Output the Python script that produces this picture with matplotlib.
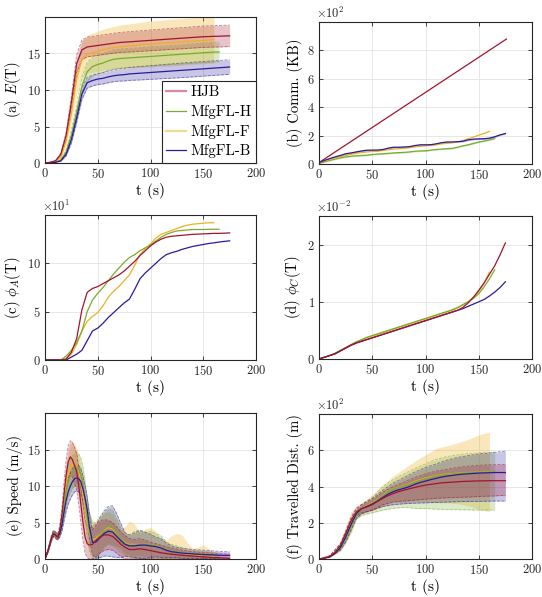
import numpy as np
import matplotlib
matplotlib.use("Agg")
import matplotlib.pyplot as plt
from matplotlib.lines import Line2D

plt.rcParams['font.family'] = 'serif'
plt.rcParams['font.serif'] = ['cmr10', 'DejaVu Serif']
plt.rcParams['mathtext.fontset'] = 'cm'
plt.rcParams['axes.unicode_minus'] = False
plt.rcParams['axes.formatter.use_mathtext'] = True

# ---------------- data ----------------
METHODS = ['HJB', 'MfgFL-H', 'MfgFL-F', 'MfgFL-B']
COLORS = {'HJB': '#A2142F', 'MfgFL-H': '#77AC30', 'MfgFL-F': '#EDB120', 'MfgFL-B': '#2B1B9B'}
LEGEND_COLORS = {'HJB': '#D68A9C', 'MfgFL-H': '#77AC30', 'MfgFL-F': '#F6D88E', 'MfgFL-B': '#2B1B9B'}

T5 = np.arange(0, 180, 5)  # time grid (s) for panels a, b, c, d, f
T_SPD = [0, 3, 6, 8, 10, 12, 14, 16, 18, 20, 22, 24, 26, 28, 30, 32, 34, 36, 38, 40, 42, 45, 48,
         52, 56, 60, 64, 68, 72, 76, 80, 85, 90, 95, 100, 105, 110, 115, 120, 125, 130, 135, 140,
         145, 150, 155, 160, 165, 170, 175]
T_BAND = [0, 10, 20, 25, 30, 35, 40, 50, 60, 70, 80, 90, 100, 110, 120, 130, 140, 150, 160, 165, 170, 175]

# (a) E(T)
E_hjb = [0, 0.1, 0.3, 1.2, 3.8, 8.3, 13.6, 15.5, 15.9, 16.0, 16.1, 16.2, 16.3, 16.4, 16.5, 16.55, 16.6,
         16.65, 16.7, 16.75, 16.8, 16.85, 16.9, 16.95, 17.0, 17.05, 17.1, 17.15, 17.2, 17.25, 17.3,
         17.32, 17.35, 17.37, 17.4, 17.42]
E_h = [0, 0.02, 0.1, 0.4, 1.5, 3.8, 7.0, 10.5, 12.5, 13.2, 13.5, 13.7, 14.0, 14.2, 14.3, 14.35, 14.4,
       14.45, 14.5, 14.55, 14.6, 14.65, 14.7, 14.75, 14.8, 14.85, 14.9, 14.95, 15.0, 15.05, 15.1,
       15.15, 15.2, 15.2]
E_f = [0, 0.05, 0.2, 0.8, 3.0, 6.8, 11.5, 14.2, 14.9, 15.1, 15.3, 15.5, 15.7, 15.8, 15.9, 16.0, 16.05,
       16.1, 16.2, 16.25, 16.3, 16.35, 16.4, 16.45, 16.5, 16.55, 16.6, 16.65, 16.7, 16.75, 16.8,
       16.85, 16.9]
E_b = [0, 0.02, 0.1, 0.3, 1.2, 3.2, 6.2, 9.5, 11.0, 11.3, 11.5, 11.6, 11.8, 11.95, 12.05, 12.1, 12.2,
       12.25, 12.3, 12.35, 12.4, 12.45, 12.5, 12.55, 12.6, 12.65, 12.7, 12.75, 12.8, 12.85, 12.9,
       12.95, 13.0, 13.05, 13.1, 13.15]
E_sd_hjb = [0, 0.01, 0.03, 0.12, 0.4, 0.8, 1.2, 1.35, 1.35, 1.35, 1.35, 1.35, 1.35, 1.36, 1.37, 1.38,
            1.39, 1.4, 1.4, 1.41, 1.42, 1.42, 1.43, 1.43, 1.44, 1.44, 1.45, 1.45, 1.45, 1.46, 1.46,
            1.46, 1.47, 1.47, 1.47, 1.47]
E_sd_h = [0, 0.01, 0.02, 0.08, 0.3, 0.7, 1.1, 1.3, 1.3, 1.3, 1.3, 1.3, 1.3, 1.3, 1.3, 1.3, 1.3, 1.3,
          1.3, 1.3, 1.3, 1.3, 1.3, 1.3, 1.3, 1.3, 1.3, 1.32, 1.32, 1.33, 1.33, 1.34, 1.35, 1.35]
E_sd_f = [0, 0.01, 0.03, 0.15, 0.6, 1.2, 2.0, 2.4, 2.6, 2.7, 2.75, 2.8, 2.85, 2.9, 2.95, 3.0, 3.0,
          3.05, 3.1, 3.1, 3.15, 3.15, 3.15, 3.2, 3.2, 3.2, 3.2, 3.2, 3.2, 3.2, 3.2, 3.2, 3.2]
E_sd_b = [0, 0.01, 0.02, 0.06, 0.25, 0.5, 0.7, 0.8, 0.75, 0.75, 0.75, 0.78, 0.8, 0.82, 0.84, 0.86,
          0.88, 0.9, 0.92, 0.93, 0.94, 0.95, 0.96, 0.97, 0.98, 0.99, 1.0, 1.0, 1.0, 1.0, 1.0, 1.0,
          1.0, 1.0, 1.0, 1.0]

# (b) Comm. (KB, x10^2)
COMM_T_HJB = [0, 176]
COMM_hjb = [0.1, 8.8]
COMM_h = [0.05, 0.15, 0.25, 0.35, 0.43, 0.5, 0.55, 0.58, 0.6, 0.62, 0.67, 0.7, 0.72, 0.75, 0.78, 0.8,
          0.82, 0.85, 0.9, 0.92, 0.93, 0.98, 1.02, 1.05, 1.08, 1.1, 1.18, 1.28, 1.35, 1.45, 1.55,
          1.62, 1.7, 1.8]
COMM_f = [0.1, 0.2, 0.32, 0.42, 0.52, 0.6, 0.68, 0.75, 0.8, 0.85, 0.88, 0.9, 0.95, 1.0, 1.05, 1.08,
          1.1, 1.15, 1.2, 1.25, 1.28, 1.3, 1.35, 1.42, 1.45, 1.5, 1.55, 1.65, 1.78, 1.9, 2.03, 2.15,
          2.3]
COMM_b = [0.1, 0.25, 0.38, 0.5, 0.6, 0.72, 0.78, 0.85, 0.92, 0.97, 0.98, 0.98, 1.02, 1.12, 1.18,
          1.18, 1.2, 1.22, 1.3, 1.35, 1.35, 1.36, 1.42, 1.5, 1.55, 1.55, 1.57, 1.6, 1.7, 1.75, 1.77,
          1.78, 1.82, 1.92, 2.05, 2.15]
COMM_sd_h = 0.05
COMM_sd_b = 0.05

# (c) phi_A(T), x10^1
PA_hjb = [0, 0, 0, 0, 0.1, 0.8, 2.2, 5.2, 7.0, 7.4, 7.6, 7.9, 8.2, 8.5, 8.8, 9.2, 9.7, 10.2, 10.8,
          11.3, 11.8, 12.2, 12.5, 12.7, 12.8, 12.85, 12.9, 12.95, 13.0, 13.02, 13.05, 13.07, 13.1,
          13.1, 13.12, 13.15]
PA_h = [0, 0, 0, 0, 0.4, 1.0, 1.8, 3.0, 5.0, 6.2, 6.9, 7.5, 8.2, 8.9, 9.5, 10.1, 10.6, 10.9, 11.3,
        11.6, 11.9, 12.3, 12.7, 13.0, 13.2, 13.35, 13.4, 13.45, 13.5, 13.5, 13.5, 13.52, 13.53, 13.53]
PA_f = [0, 0, 0, 0, 0.1, 0.6, 1.6, 3.0, 4.0, 4.5, 4.9, 5.6, 6.5, 7.1, 7.6, 8.2, 8.8, 9.8, 10.9, 11.5,
        12.0, 12.6, 13.0, 13.2, 13.4, 13.6, 13.8, 13.95, 14.05, 14.1, 14.15, 14.2, 14.2]
PA_b = [0, 0, 0, 0, 0, 0.3, 0.6, 1.0, 2.0, 3.0, 3.3, 3.8, 4.4, 4.9, 5.4, 5.9, 6.3, 7.3, 8.4, 9.0, 9.5,
        10.0, 10.5, 10.9, 11.1, 11.25, 11.45, 11.6, 11.75, 11.85, 11.95, 12.05, 12.12, 12.2, 12.27,
        12.33]

# (d) phi_C(T), x10^-2
PC_hjb = [0, 0.03, 0.06, 0.09, 0.14, 0.19, 0.24, 0.28, 0.31, 0.34, 0.37, 0.4, 0.43, 0.46, 0.49, 0.52,
          0.55, 0.58, 0.61, 0.64, 0.67, 0.7, 0.73, 0.76, 0.79, 0.82, 0.85, 0.9, 0.98, 1.08, 1.2,
          1.33, 1.48, 1.63, 1.82, 2.03]
PC_h = [0, 0.03, 0.06, 0.1, 0.15, 0.2, 0.25, 0.3, 0.34, 0.38, 0.41, 0.44, 0.47, 0.5, 0.53, 0.56, 0.59,
        0.62, 0.65, 0.68, 0.71, 0.74, 0.77, 0.8, 0.83, 0.86, 0.9, 0.95, 1.0, 1.06, 1.14, 1.26, 1.4,
        1.56]
PC_f = [0, 0.03, 0.06, 0.1, 0.15, 0.2, 0.25, 0.29, 0.33, 0.37, 0.4, 0.43, 0.46, 0.49, 0.52, 0.55,
        0.58, 0.61, 0.64, 0.67, 0.7, 0.73, 0.76, 0.79, 0.82, 0.85, 0.89, 0.94, 1.0, 1.08, 1.18, 1.32,
        1.52]
PC_b = [0, 0.03, 0.06, 0.09, 0.14, 0.19, 0.24, 0.28, 0.31, 0.34, 0.37, 0.4, 0.43, 0.46, 0.49, 0.52,
        0.55, 0.58, 0.61, 0.64, 0.67, 0.7, 0.73, 0.76, 0.79, 0.82, 0.85, 0.88, 0.92, 0.96, 1.0, 1.04,
        1.1, 1.17, 1.25, 1.35]

# (e) Speed (m/s): mean, upper, lower
SP_hjb = [0, 1.2, 2.8, 3.5, 3.2, 3.0, 4.0, 6.0, 8.8, 11.5, 13.3, 14.0, 13.6, 12.8, 12.0, 10.0, 7.5, 5.0,
          3.0, 2.1, 1.9, 2.0, 2.5, 3.0, 3.3, 3.3, 3.1, 2.6, 2.0, 1.6, 1.3, 1.3, 1.4, 1.3, 1.15, 1.0,
          0.85, 0.75, 0.65, 0.58, 0.5, 0.45, 0.4, 0.35, 0.3, 0.25, 0.2, 0.17, 0.14, 0.1]
SP_hjb_up = [0, 1.4, 3.1, 3.9, 3.6, 3.4, 4.6, 7.0, 10.5, 13.5, 15.5, 16.2, 16.0, 15.3, 14.5, 12.5,
             10.0, 7.5, 5.3, 4.5, 4.3, 4.4, 4.8, 5.2, 5.4, 5.3, 5.0, 4.4, 3.7, 3.2, 2.8, 2.7, 2.8,
             2.6, 2.3, 2.1, 1.9, 1.7, 1.5, 1.35, 1.2, 1.1, 1.0, 0.95, 0.9, 0.85, 0.8, 0.75, 0.7, 0.7]
SP_hjb_lo = [0, 1.0, 2.5, 3.1, 2.8, 2.6, 3.4, 5.0, 7.0, 9.5, 11.0, 11.8, 11.2, 10.3, 9.5, 7.5, 5.0,
             2.5, 0.8, 0.2, 0.0, 0.0, 0.3, 0.8, 1.2, 1.3, 1.2, 0.8, 0.3, 0.0, 0.0, 0.0, 0.0, 0.0,
             0.0, 0.0, 0.0, 0.0, 0.0, 0.0, 0.0, 0.0, 0.0, 0.0, 0.0, 0.0, 0.0, 0.0, 0.0, 0.0]
SP_h = [0, 1.2, 2.8, 3.6, 3.4, 3.1, 3.6, 5.0, 7.2, 9.2, 10.6, 11.4, 11.9, 12.3, 12.5, 12.3, 11.6, 10.2,
        8.0, 5.6, 3.8, 2.3, 2.5, 3.3, 4.1, 4.5, 4.3, 3.6, 2.8, 2.1, 1.9, 1.9, 2.0, 2.0, 2.0, 1.8, 1.6,
        1.3, 1.1, 1.0, 0.9, 0.8, 0.7, 0.65, 0.6, 0.55, 0.5, 0.45]
SP_h_up = [0, 1.4, 3.2, 4.0, 3.8, 3.5, 4.2, 6.0, 8.8, 11.2, 12.8, 13.7, 14.2, 14.5, 14.6, 14.4, 13.8,
           12.6, 10.6, 8.3, 6.5, 5.0, 5.0, 5.8, 6.5, 6.9, 6.7, 5.5, 4.2, 3.5, 3.2, 3.8, 4.0, 3.6,
           3.8, 3.5, 3.2, 2.3, 2.0, 1.8, 1.5, 1.3, 1.2, 1.1, 1.0, 0.95, 0.9, 0.85]
SP_h_lo = [0, 1.0, 2.4, 3.2, 3.0, 2.7, 3.0, 4.0, 5.6, 7.2, 8.4, 9.1, 9.6, 10.1, 10.4, 10.2, 9.4, 7.8,
           5.4, 2.9, 1.1, 0.0, 0.0, 0.8, 1.7, 2.1, 1.9, 1.7, 1.4, 0.7, 0.6, 0.0, 0.0, 0.0, 0.0, 0.0,
           0.0, 0.0, 0.0, 0.0, 0.0, 0.0, 0.0, 0.0, 0.0, 0.0, 0.0, 0.0]
SP_f = [0, 1.2, 2.8, 3.5, 3.2, 3.0, 3.8, 5.5, 8.0, 10.2, 11.8, 12.6, 12.9, 13.0, 12.8, 12.0, 10.5, 8.8,
        6.8, 5.0, 3.5, 2.6, 2.8, 3.4, 4.0, 4.3, 4.1, 3.5, 2.8, 2.2, 2.0, 2.0, 2.0, 2.0, 2.0, 1.8, 1.5,
        1.3, 1.1, 0.95, 0.8, 0.7, 0.6, 0.5, 0.45, 0.4, 0.35]
SP_f_up = [0, 1.4, 3.1, 3.9, 3.6, 3.4, 4.4, 6.8, 10.0, 12.8, 14.7, 15.6, 15.9, 15.8, 15.2, 14.2, 12.8,
           11.0, 9.0, 7.5, 6.0, 5.0, 5.0, 5.8, 6.3, 6.5, 6.2, 5.2, 4.0, 4.5, 5.2, 4.8, 3.5, 4.2, 4.3,
           3.8, 2.8, 2.6, 3.2, 3.5, 3.3, 2.2, 1.5, 1.6, 1.9, 1.5, 0.9]
SP_f_lo = [0, 1.0, 2.5, 3.1, 2.8, 2.6, 3.2, 4.3, 6.0, 7.8, 9.0, 9.6, 9.9, 10.0, 9.8, 9.0, 7.5, 6.0,
           4.0, 2.5, 1.0, 0.3, 0.5, 1.0, 1.6, 2.0, 1.8, 1.3, 0.8, 0.4, 0.3, 0.4, 0.5, 0.4, 0.3, 0.2,
           0.1, 0.0, 0.0, 0.0, 0.0, 0.0, 0.0, 0.0, 0.0, 0.0, 0.0]
SP_b = [0, 1.2, 2.8, 3.5, 3.3, 3.0, 3.5, 4.6, 6.4, 8.0, 9.2, 10.0, 10.6, 11.0, 11.1, 11.0, 10.6, 9.6,
        8.3, 6.8, 4.5, 2.3, 2.3, 2.9, 3.5, 3.8, 3.7, 3.1, 2.5, 2.0, 1.8, 1.8, 1.9, 1.9, 1.8, 1.7, 1.5,
        1.2, 1.0, 0.9, 0.8, 0.75, 0.7, 0.65, 0.6, 0.58, 0.55, 0.52, 0.5, 0.5]
SP_b_up = [0, 1.4, 3.1, 3.9, 3.7, 3.4, 4.0, 5.4, 7.6, 9.5, 10.9, 11.8, 12.4, 12.8, 12.9, 12.8, 12.4,
           11.4, 10.0, 8.5, 6.2, 4.0, 4.5, 5.6, 6.6, 7.2, 7.3, 6.2, 4.8, 3.6, 3.3, 3.6, 3.9, 3.7,
           3.4, 3.0, 2.8, 2.2, 1.8, 1.6, 1.5, 1.4, 1.3, 1.25, 1.2, 1.15, 1.1, 1.05, 1.0, 1.0]
SP_b_lo = [0, 1.0, 2.5, 3.1, 2.9, 2.6, 3.0, 3.8, 5.2, 6.5, 7.5, 8.2, 8.8, 9.2, 9.3, 9.2, 8.8, 7.8,
           6.6, 5.1, 2.8, 0.6, 0.1, 0.2, 0.4, 0.4, 0.3, 0.2, 0.2, 0.4, 0.3, 0.2, 0.1, 0.1, 0.2, 0.3,
           0.2, 0.2, 0.2, 0.2, 0.1, 0.1, 0.1, 0.1, 0.1, 0.05, 0.05, 0.0, 0.0, 0.0]

# (f) Travelled distance (m, x10^2)
D_hjb = [0, 0.05, 0.15, 0.35, 0.75, 1.4, 2.1, 2.6, 2.78, 2.88, 3.0, 3.18, 3.35, 3.5, 3.62, 3.72, 3.8,
         3.88, 3.95, 4.02, 4.08, 4.12, 4.16, 4.2, 4.22, 4.24, 4.26, 4.28, 4.29, 4.3, 4.31, 4.31,
         4.32, 4.32, 4.32, 4.32]
D_h = [0, 0.05, 0.12, 0.3, 0.6, 1.15, 1.8, 2.4, 2.75, 2.92, 3.08, 3.28, 3.5, 3.7, 3.86, 3.95, 4.03,
       4.12, 4.24, 4.34, 4.42, 4.5, 4.57, 4.62, 4.66, 4.69, 4.72, 4.74, 4.76, 4.77, 4.78, 4.79, 4.8,
       4.8]
D_f = [0, 0.05, 0.15, 0.35, 0.7, 1.3, 2.0, 2.55, 2.8, 2.95, 3.1, 3.3, 3.52, 3.72, 3.88, 3.96, 4.05,
       4.15, 4.28, 4.38, 4.46, 4.54, 4.6, 4.65, 4.68, 4.71, 4.73, 4.75, 4.77, 4.78, 4.79, 4.8, 4.8]
D_b = [0, 0.05, 0.12, 0.3, 0.62, 1.2, 1.9, 2.5, 2.78, 2.9, 3.03, 3.2, 3.4, 3.58, 3.72, 3.82, 3.9,
       4.0, 4.12, 4.22, 4.3, 4.38, 4.45, 4.52, 4.57, 4.61, 4.65, 4.68, 4.7, 4.72, 4.74, 4.75, 4.76,
       4.77, 4.77, 4.77]
D_hjb_up = [0, 0.18, 0.85, 1.55, 2.3, 2.8, 3.0, 3.3, 3.7, 4.0, 4.25, 4.5, 4.7, 4.85, 4.95, 5.05, 5.12,
            5.17, 5.2, 5.2, 5.22, 5.22]
D_hjb_lo = [0, 0.12, 0.65, 1.25, 1.9, 2.4, 2.55, 2.7, 3.0, 3.15, 3.2, 3.25, 3.3, 3.35, 3.38, 3.4,
            3.42, 3.45, 3.47, 3.48, 3.5, 3.5]
D_h_up = [0, 0.16, 0.75, 1.4, 2.1, 2.6, 3.0, 3.4, 4.0, 4.4, 4.7, 5.0, 5.25, 5.5, 5.65, 5.75, 5.82,
          5.85, 5.88, 5.9]
D_h_lo = [0, 0.08, 0.45, 0.9, 1.5, 2.2, 2.4, 2.55, 2.7, 2.8, 2.85, 2.8, 2.78, 2.75, 2.73, 2.72, 2.71,
          2.7, 2.7, 2.7]
D_f_up = [0, 0.2, 0.95, 1.75, 2.6, 2.95, 3.1, 3.55, 4.1, 4.6, 5.0, 5.4, 5.75, 6.1, 6.25, 6.4, 6.6,
          6.85, 7.0]
D_f_lo = [0, 0.1, 0.45, 0.85, 1.4, 2.15, 2.5, 2.65, 2.9, 3.15, 3.1, 3.15, 3.15, 3.1, 3.1, 3.05, 2.95,
          2.75, 2.6]
D_b_up = [0, 0.17, 0.8, 1.45, 2.2, 2.75, 3.0, 3.35, 3.8, 4.2, 4.5, 4.8, 5.05, 5.25, 5.45, 5.6, 5.7,
          5.8, 5.85, 5.88, 5.92, 5.95]
D_b_lo = [0, 0.1, 0.5, 0.95, 1.6, 2.25, 2.5, 2.7, 2.9, 3.0, 3.05, 3.08, 3.1, 3.12, 3.14, 3.16, 3.17,
          3.18, 3.19, 3.2, 3.2, 3.2]

# ---------------- figure ----------------
fig = plt.figure(figsize=(5.42, 5.97), dpi=100)
W, H = 542.0, 597.0


def add_ax(l, t, r, b):
    return fig.add_axes([l / W, 1 - b / H, (r - l) / W, (b - t) / H])


axa = add_ax(45, 17, 256, 163)
axb = add_ax(319, 22, 532, 164)
axc = add_ax(45, 215, 256, 360)
axd = add_ax(319, 216, 532, 359)
axe = add_ax(45, 413, 256, 559)
axf = add_ax(319, 414, 532, 559)

ORDER = ['MfgFL-F', 'MfgFL-H', 'MfgFL-B', 'HJB']
LW = 0.9


def style(ax, ylabel, yticks, ylim, expo=None):
    ax.set_xlim(0, 200)
    ax.set_ylim(*ylim)
    ax.set_xticks([0, 50, 100, 150, 200])
    ax.set_yticks(yticks)
    ax.grid(True, color='#E3E3E3', lw=0.6)
    ax.set_axisbelow(True)
    for s in ax.spines.values():
        s.set_color('#262626')
        s.set_linewidth(0.8)
    ax.tick_params(direction='in', length=3, width=0.6, colors='#262626', labelsize=9,
                   top=True, right=True, pad=3)
    ax.set_xlabel('t (s)', fontsize=11, labelpad=1.5)
    ax.set_ylabel(ylabel, fontsize=10.5, labelpad=3)
    if expo is not None:
        ax.text(-0.015, 1.005, expo, transform=ax.transAxes, ha='left', va='bottom',
                fontsize=9, color='#262626')


def band(ax, t, lo, up, name, dashed=True):
    c = COLORS[name]
    a = 0.3 if name == 'MfgFL-F' else 0.25
    ax.fill_between(t, lo, up, color=c, alpha=a, lw=0)
    if dashed:
        ax.plot(t, lo, color=c, lw=0.6, ls='--', alpha=0.55)
        ax.plot(t, up, color=c, lw=0.6, ls='--', alpha=0.55)


# (a)
Emean = {'HJB': E_hjb, 'MfgFL-H': E_h, 'MfgFL-F': E_f, 'MfgFL-B': E_b}
Esd = {'HJB': E_sd_hjb, 'MfgFL-H': E_sd_h, 'MfgFL-F': E_sd_f, 'MfgFL-B': E_sd_b}
for n in ORDER:
    m = np.array(Emean[n]); s = np.array(Esd[n]); t = T5[:len(m)]
    band(axa, t, m - s, m + s, n, dashed=(n != 'MfgFL-F'))
for n in ORDER:
    m = Emean[n]
    axa.plot(T5[:len(m)], m, color=COLORS[n], lw=LW)
style(axa, r'(a) $E$(T)', [0, 5, 10, 15], (0, 20))
handles = [Line2D([], [], color=LEGEND_COLORS[n], lw=(1.6 if n in ('HJB', 'MfgFL-F') else 0.9))
           for n in METHODS]
leg = axa.legend(handles, METHODS, loc='lower right', borderaxespad=0, fontsize=10.8,
                 fancybox=False, framealpha=1, edgecolor='#262626', handlelength=1.3,
                 handletextpad=0.3, labelspacing=0.38, borderpad=0.3)
leg.get_frame().set_linewidth(0.8)

# (b)
axb.plot(COMM_T_HJB, COMM_hjb, color=COLORS['HJB'], lw=LW)
for n, v, sd in [('MfgFL-H', COMM_h, COMM_sd_h), ('MfgFL-B', COMM_b, COMM_sd_b)]:
    v = np.array(v); t = T5[:len(v)]
    axb.fill_between(t, v - sd, v + sd, color=COLORS[n], alpha=0.3, lw=0)
for n, v in [('MfgFL-H', COMM_h), ('MfgFL-F', COMM_f), ('MfgFL-B', COMM_b)]:
    axb.plot(T5[:len(v)], v, color=COLORS[n], lw=LW)
style(axb, '(b) Comm. (KB)', [0, 2, 4, 6, 8], (0, 10), r'$\times10^{2}$')

# (c)
PA = {'HJB': PA_hjb, 'MfgFL-H': PA_h, 'MfgFL-F': PA_f, 'MfgFL-B': PA_b}
for n in ORDER:
    axc.plot(T5[:len(PA[n])], PA[n], color=COLORS[n], lw=LW)
style(axc, r'(c) $\phi_A$(T)', [0, 5, 10], (0, 15), r'$\times10^{1}$')

# (d)
PC = {'HJB': PC_hjb, 'MfgFL-H': PC_h, 'MfgFL-F': PC_f, 'MfgFL-B': PC_b}
for n in ['MfgFL-F', 'MfgFL-H', 'MfgFL-B', 'HJB']:
    axd.plot(T5[:len(PC[n])], PC[n], color=COLORS[n], lw=LW)
style(axd, r'(d) $\phi_C$(T)', [0, 1, 2], (0, 2.5), r'$\times10^{-2}$')

# (e)
SP = {'HJB': (SP_hjb, SP_hjb_lo, SP_hjb_up), 'MfgFL-H': (SP_h, SP_h_lo, SP_h_up),
      'MfgFL-F': (SP_f, SP_f_lo, SP_f_up), 'MfgFL-B': (SP_b, SP_b_lo, SP_b_up)}
for n in ORDER:
    m, lo, up = SP[n]
    band(axe, T_SPD[:len(m)], lo, up, n, dashed=(n != 'MfgFL-F'))
for n in ORDER:
    m = SP[n][0]
    axe.plot(T_SPD[:len(m)], m, color=COLORS[n], lw=LW)
style(axe, '(e) Speed (m/s)', [0, 5, 10, 15], (0, 20))

# (f)
D = {'HJB': (D_hjb, D_hjb_lo, D_hjb_up), 'MfgFL-H': (D_h, D_h_lo, D_h_up),
     'MfgFL-F': (D_f, D_f_lo, D_f_up), 'MfgFL-B': (D_b, D_b_lo, D_b_up)}
for n in ORDER:
    m, lo, up = D[n]
    band(axf, T_BAND[:len(up)], lo, up, n, dashed=(n != 'MfgFL-F'))
for n in ORDER:
    m = D[n][0]
    axf.plot(T5[:len(m)], m, color=COLORS[n], lw=LW)
style(axf, '(f) Travelled Dist. (m)', [0, 2, 4, 6], (0, 8), r'$\times10^{2}$')

fig.savefig('out.png', dpi=100)
